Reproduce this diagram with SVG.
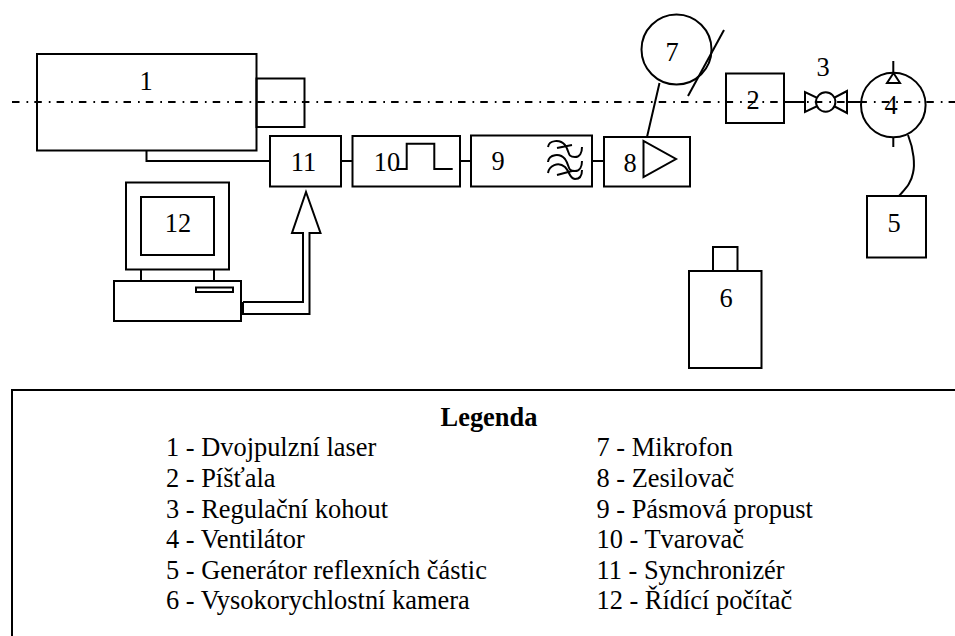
<svg xmlns="http://www.w3.org/2000/svg" width="955" height="636" viewBox="0 0 955 636">
<style>
.s{fill:none;stroke:#000;stroke-width:2}
.c{stroke-dasharray:7.500 7 1.700 6.100}
text{font-family:"Liberation Serif","Times New Roman",serif;font-size:26.400px;fill:#000}
.n{text-anchor:middle}
.b{font-weight:bold}
</style>
<rect width="955" height="636" fill="#fff"/>
<g id="laser"><rect class="s" x="37" y="54" width="219.500" height="96.500"/><rect class="s" x="256.500" y="78.500" width="48" height="48.500"/><text class="n" x="146" y="90">1</text></g>
<g id="n11"><rect class="s" x="270" y="136" width="71" height="50.500"/><text class="n" x="303.500" y="171">11</text></g>
<g id="n10"><rect class="s" x="352.500" y="136" width="107.500" height="50.500"/><text class="n" x="387" y="171">10</text><path class="s" d="M397 169H406.700V143.700H434.300V169H452.700"/></g>
<g id="n9"><rect class="s" x="471" y="135.500" width="121" height="51"/><text class="n" x="498" y="170">9</text>
<path class="s" d="M548 147C549 140 560 139 565 145C570 152 567 157 575 157C580 157 582 152 582 147M548 162C549 154 560 153 565 159C570 166 567 171 575 171C580 171 582 166 582 161M548 173C549 166 558 161 565 167C570 172 569 178 575 179C580 179 582 175 582 170M557 148L572 145M557 175L572 171"/></g>
<g id="n8"><rect class="s" x="604" y="137" width="86" height="49.500"/><text class="n" x="630" y="172">8</text><path class="s" d="M643.500 141V177L676 159Z"/></g>
<g id="n7"><circle class="s" cx="676.500" cy="49.500" r="35"/><text class="n" x="672" y="61">7</text><path class="s" d="M724 30L688 96"/></g>
<g id="n2"><rect class="s" x="726" y="73.500" width="58" height="49.500"/><text class="n" x="753" y="109">2</text></g>
<g id="n3"><text class="n" x="823" y="76">3</text><path class="s" d="M805 92V112L826 102ZM847 91V113L826 102Z"/><circle cx="825.700" cy="102" r="9.700" fill="#fff" stroke="#000" stroke-width="2"/></g>
<g id="n5"><rect class="s" x="867" y="196" width="59" height="61.500"/><text class="n" x="894" y="232">5</text></g>
<g id="n6"><rect class="s" x="689" y="271" width="72.500" height="97"/><rect class="s" x="713" y="247" width="24.500" height="24"/><text class="n" x="726" y="307">6</text></g>
<g id="n12"><rect class="s" x="126" y="182.500" width="103" height="87"/><rect class="s" x="141" y="197" width="73" height="58"/><text class="n" x="178" y="232">12</text><path class="s" d="M141 269.500V281M214 269.500V281"/><rect class="s" x="114" y="281" width="127" height="40"/><rect class="s" x="196" y="287.500" width="37" height="4.500"/></g>
<g id="n4"><circle class="s" cx="893.300" cy="105" r="32.300"/><text class="n" x="891" y="114">4</text><path class="s" d="M893.300 61V73M887 83H900L893.500 73ZM893.300 137V147"/></g>
<g id="connectors">
<path class="s c" d="M12 102H955"/>
<path class="s" d="M146.500 150.500V161H270M341 161H352.500M460 161H471M592 161H604M659.500 83L647 137M784 102H805M847 102H862"/>
<path class="s" d="M243 302H303V233H292L306 192L320.500 233H309.500V314H243V302"/>
<path class="s" d="M908 135C914 150 915 165 913 173C911 184 905 189 899 196"/>
</g>
<g id="legend"><path class="s" d="M12 636V390H955"/>
<text class="b n" x="489" y="426">Legenda</text>
<text x="166" y="456">1 - Dvojpulzní laser</text>
<text x="166" y="487">2 - Píšťala</text>
<text x="166" y="517.500">3 - Regulační kohout</text>
<text x="166" y="548">4 - Ventilátor</text>
<text x="166" y="579">5 - Generátor reflexních částic</text>
<text x="166" y="609">6 - Vysokorychlostní kamera</text>
<text x="596.500" y="456">7 - Mikrofon</text>
<text x="596.500" y="487">8 - Zesilovač</text>
<text x="596.500" y="517.500">9 - Pásmová propust</text>
<text x="596.500" y="548">10 - Tvarovač</text>
<text x="596.500" y="579">11 - Synchronizér</text>
<text x="596.500" y="609">12 - Řídící počítač</text>
</g>
</svg>
